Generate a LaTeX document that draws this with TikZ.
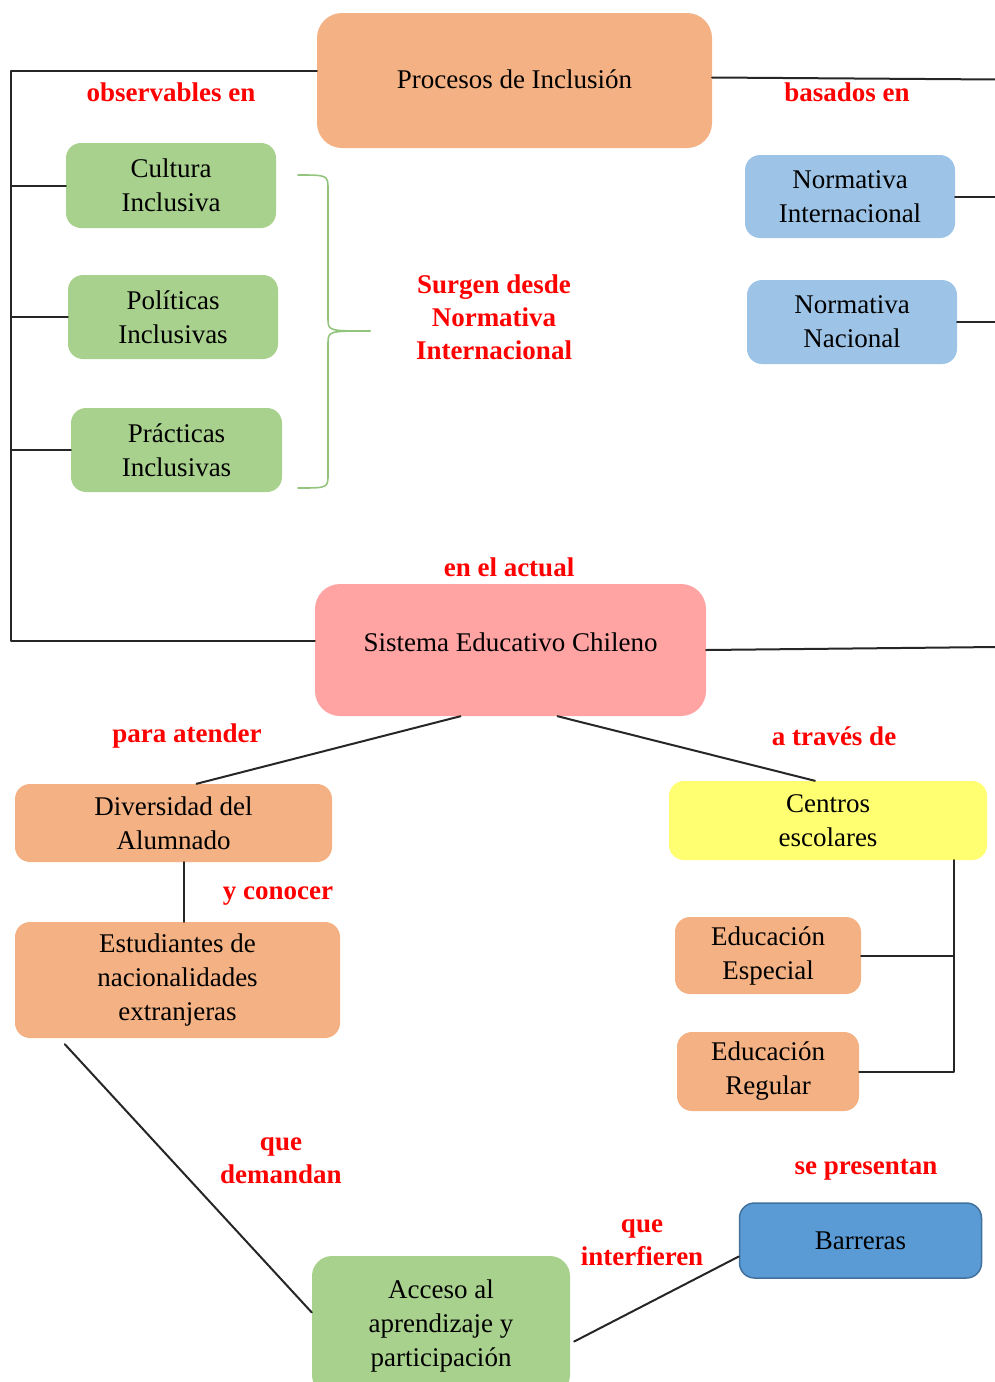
\documentclass[tikz,border=0pt]{standalone}
\usepackage{fontspec}
\setmainfont{Liberation Serif}
\usetikzlibrary{positioning}
\definecolor{naranja}{HTML}{F4B183}
\definecolor{verde}{HTML}{A9D18E}
\definecolor{celeste}{HTML}{9DC3E6}
\definecolor{rosado}{HTML}{FFA3A3}
\definecolor{amarillo}{HTML}{FFFF71}
\definecolor{azul}{HTML}{5B9BD5}
\definecolor{azulborde}{HTML}{41719C}
\definecolor{verdellave}{HTML}{93C47D}
\begin{document}
\begin{tikzpicture}[x=1pt, y=-1pt, line join=round, line cap=round,
  caja/.style={rounded corners=15pt, align=center, inner sep=0pt, font=\fontsize{27}{34}\selectfont},
  etiqueta/.style={text=red, align=center, inner sep=0pt, font=\fontsize{27}{33}\selectfont\bfseries},
  linea/.style={line width=2pt, black!85},
  llave/.style={line width=1.6pt, verdellave}]
	\useasboundingbox (0,0) rectangle (995,1382);
	\coordinate (izq) at (11,0);
	\coordinate (der) at (997,0);
	\coordinate (eje) at (954,0);
	% nodos
	\node[caja, fill=naranja, rounded corners=25pt, minimum width=395, minimum height=135] (proc) at (514.5,80.5) {\raisebox{2pt}{Procesos de Inclusión}};
	\node[caja, fill=verde, minimum width=210, minimum height=85] (cul) at (171,185.5) {Cultura\\Inclusiva};
	\node[caja, fill=verde, minimum width=210, minimum height=84] (pol) at (173,317) {Políticas\\Inclusivas};
	\node[caja, fill=verde, minimum width=211, minimum height=84] (pra) at (176.5,450) {Prácticas\\Inclusivas};
	\node[caja, fill=celeste, minimum width=210, minimum height=83] (nin) at (850,196.5) {Normativa\\Internacional};
	\node[caja, fill=celeste, minimum width=210, minimum height=84] (nna) at (852,322) {Normativa\\Nacional};
	\node[caja, fill=rosado, rounded corners=25pt, minimum width=391, minimum height=132] (sis) at (510.5,650) {\raisebox{16pt}{Sistema Educativo Chileno}};
	\node[caja, fill=naranja, minimum width=317, minimum height=78] (div) at (173.5,823) {Diversidad del\\Alumnado};
	\node[caja, fill=amarillo, minimum width=318, minimum height=79] (cen) at (828,820.5) {Centros\\escolares};
	\node[caja, fill=naranja, minimum width=325, minimum height=116] (est) at (177.5,980) {Estudiantes de\\nacionalidades\\extranjeras};
	\node[caja, fill=naranja, minimum width=186, minimum height=77] (esp) at (768,955.5) {Educación\\Especial};
	\node[caja, fill=naranja, minimum width=182, minimum height=79] (reg) at (768,1071.5) {Educación\\Regular};
	\node[caja, fill=azul, draw=azulborde, line width=1.5pt, minimum width=242, minimum height=75] (bar) at (860.5,1240.5) {Barreras};
	\node[caja, fill=verde, rounded corners=20pt, minimum width=258, minimum height=139] (acc) at (441,1325.5) {Acceso al\\aprendizaje y\\participación};
	% etiquetas
	\node[etiqueta] (obs) at (171,92) {observables en};
	\node[etiqueta] (bas) at (847,92) {basados en};
	\node[etiqueta] (sur) at (494,317) {Surgen desde\\Normativa\\Internacional};
	\node[etiqueta] (act) at (509,567) {en el actual};
	\node[etiqueta] (ate) at (187,736) {para atender};
	\node[etiqueta] (tra) at (834,736) {a través de};
	\node[etiqueta] (con) at (278,896) {y conocer};
	\node[etiqueta] (dem) at (281,1161) {que\\demandan};
	\node[etiqueta] (pre) at (866,1170) {se presentan};
	\node[etiqueta] (int) at (642,1243) {que\\interfieren};
	% conectores
	\draw[linea] ([yshift=10pt]proc.west) -- ([yshift=10pt]proc.west -| izq) |- ([yshift=9pt]sis.west);
	\foreach \n in {cul,pol,pra}
		\draw[linea] (\n.west) -- (\n.west -| izq);
	\draw[linea] ([yshift=3pt]proc.east) -- ([yshift=1pt]proc.east -| der);
	\foreach \n in {nin,nna}
		\draw[linea] (\n.east) -- (\n.east -| der);
	\draw[linea] (sis.east) -- ([yshift=3pt]sis.east -| der);
	\draw[linea] ([xshift=-50pt]sis.south) -- ([xshift=23pt]div.north);
	\draw[linea] ([xshift=47pt]sis.south) -- ([xshift=-13pt]cen.north);
	\draw[linea] ([xshift=10pt]div.south) -- ([xshift=10pt]div.south |- est.north);
	\draw[linea] (cen.south -| eje) -- (reg.east -| eje) -- (reg.east);
	\draw[linea] (esp.east) -- (esp.east -| eje);
	\draw[linea] ([xshift=50pt,yshift=-6pt]est.south west) -- ([yshift=13pt]acc.west);
	\draw[linea] ([xshift=4pt,yshift=-16pt]acc.east) -- ([yshift=-16pt]bar.west);
	% llave
	\draw[llave] (298,175) .. controls (328,175) .. (328,190) -- (328,318) .. controls (328,331) .. (370,331);
	\draw[llave] (370,331) .. controls (328,331) .. (328,344) -- (328,474) .. controls (328,488) .. (298,488);
\end{tikzpicture}
\end{document}
